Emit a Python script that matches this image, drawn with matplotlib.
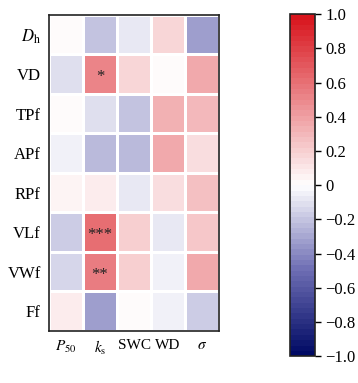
import numpy as np
import matplotlib
matplotlib.use("Agg")
import matplotlib.pyplot as plt
from matplotlib.colors import LinearSegmentedColormap

plt.rcParams['font.family'] = ['Liberation Serif', 'DejaVu Serif']
plt.rcParams['mathtext.fontset'] = 'stix'

rows = [r'$D_\mathrm{h}$', 'VD', 'TPf', 'APf', 'RPf', 'VLf', 'VWf', 'Ff']
cols = [r'$P_{50}$', r'$k_\mathrm{s}$', 'SWC', 'WD', r'$\sigma$']

# correlation values, one list per row
Dh  = [0.00, -0.21, -0.08, 0.16, -0.33]
VD  = [-0.10, 0.51, 0.18, 0.00, 0.35]
TPf = [0.03, -0.10, -0.21, 0.34, 0.30]
APf = [-0.05, -0.22, -0.23, 0.37, 0.15]
RPf = [0.06, 0.08, -0.09, 0.14, 0.27]
VLf = [-0.17, 0.62, 0.21, -0.09, 0.23]
VWf = [-0.13, 0.55, 0.19, -0.05, 0.37]
Ff  = [0.08, -0.34, 0.03, -0.05, -0.17]

stars = {(1, 1): '*', (5, 1): '***', (6, 1): '**'}

data = np.array([Dh, VD, TPf, APf, RPf, VLf, VWf, Ff])

cmap = LinearSegmentedColormap.from_list(
    'rb', [(0.0, '#000a64'), (0.25, '#6e6eb4'), (0.5, '#ffffff'),
           (1.0, '#d8141c')], N=64)

fig = plt.figure(figsize=(3.58, 3.83), dpi=100)
ax = fig.add_axes([0.137, 0.136, 0.475, 0.825])
cax = fig.add_axes([0.81, 0.07, 0.07, 0.893])

mesh = ax.pcolormesh(data, cmap=cmap, vmin=-1, vmax=1,
                     edgecolors='white', linewidth=1)
ax.set_xlim(0, len(cols))
ax.set_ylim(len(rows), 0)
ax.set_xticks(np.arange(len(cols)) + 0.5)
ax.set_xticklabels(cols, fontsize=11)
ax.set_yticks(np.arange(len(rows)) + 0.5)
ax.set_yticklabels(rows, fontsize=12)
ax.tick_params(length=0, pad=6)
for s in ax.spines.values():
    s.set_linewidth(1.2)
    s.set_color('#222222')

for (i, j), t in stars.items():
    ax.text(j + 0.5, i + 0.58, t, ha='center', va='center', fontsize=12,
            color='#222222')

cb = fig.colorbar(mesh, cax=cax)
ticks = np.arange(-1.0, 1.01, 0.2)
cb.set_ticks(ticks)
cb.set_ticklabels(['0' if abs(t) < 1e-9 else ('%.1f' % t).replace('-', '\u2212')
                   for t in ticks])
cb.ax.tick_params(labelsize=12, length=4, width=1)
cb.outline.set_linewidth(1.2)
cb.outline.set_edgecolor('#222222')

fig.savefig('out.png', dpi=100)
